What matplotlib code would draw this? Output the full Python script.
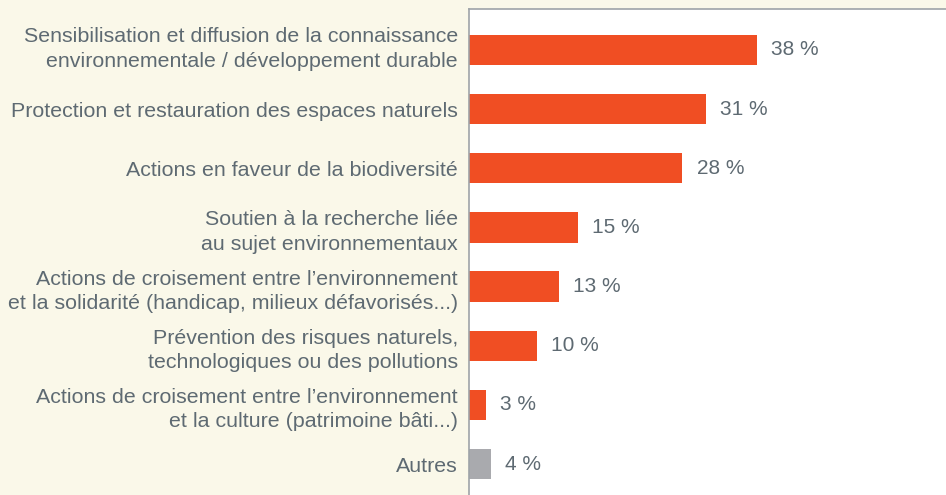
import numpy as np
import matplotlib.pyplot as plt
from matplotlib.transforms import ScaledTranslation

# categories (top to bottom)
categories = [
    "Sensibilisation et diffusion de la connaissance\nenvironnementale / développement durable",
    "Protection et restauration des espaces naturels",
    "Actions en faveur de la biodiversité",
    "Soutien à la recherche liée\nau sujet environnementaux",
    "Actions de croisement entre l’environnement\net la solidarité (handicap, milieux défavorisés...)",
    "Prévention des risques naturels,\ntechnologiques ou des pollutions",
    "Actions de croisement entre l’environnement\net la culture (patrimoine bâti...)",
    "Autres",
]
# percentages as printed
shown_pct = [38, 31, 28, 15, 13, 10, 3, 4]
# bar lengths as drawn in the picture
bar_len = [37.9, 31.2, 28.1, 14.3, 11.8, 8.9, 2.2, 2.9]

orange = "#F04E23"
grey_bar = "#A9AAAE"
text_col = "#5E6A72"
beige = "#FAF8E9"

plt.rcParams['font.family'] = ['Liberation Sans', 'DejaVu Sans']

fig = plt.figure(figsize=(9.46, 4.95), dpi=100, facecolor=beige)
ax = fig.add_axes([469 / 946, 0, 1 - 469 / 946, 1 - 9 / 495])
ax.set_facecolor("white")

y = np.arange(len(categories))
colors = [orange] * (len(categories) - 1) + [grey_bar]
bars = ax.barh(y, bar_len, height=0.51, color=colors)

for b, p in zip(bars, shown_pct):
    ax.text(b.get_width() + 1.9, b.get_y() + b.get_height() / 2, f"{p} %",
            va="center", ha="left", fontsize=15, color=text_col)

ax.set_yticks(y)
ax.set_yticklabels(categories, fontsize=15.4, color=text_col, linespacing=1.36)
ax.tick_params(axis="y", length=0, pad=8)
ax.set_xticks([])
ax.set_xlim(0, 62.8)
ax.set_ylim(7.524, -0.693)

# first label sits a little higher in the original
lab0 = ax.get_yticklabels()[0]
lab0.set_transform(lab0.get_transform() + ScaledTranslation(0, 4 / 72, fig.dpi_scale_trans))

for s in ["right", "bottom"]:
    ax.spines[s].set_visible(False)
for s in ["left", "top"]:
    ax.spines[s].set_color("#9EA3A8")
    ax.spines[s].set_linewidth(1.2)

fig.savefig("out.png", dpi=100, facecolor=beige)
